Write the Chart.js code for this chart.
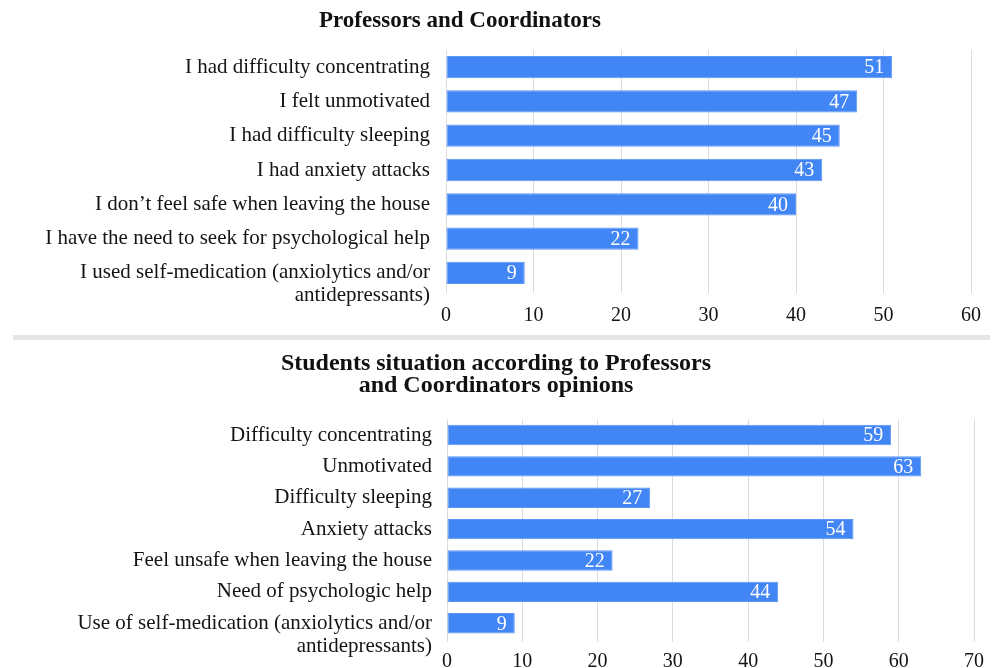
<!DOCTYPE html>
<html>
<head>
<meta charset="utf-8">
<script src="https://cdn.jsdelivr.net/npm/chart.js@4.4.1/dist/chart.umd.min.js"></script>
<style>
  body { margin: 0; width: 992px; height: 668px; background: #fff; overflow: hidden; position: relative; font-family: "Liberation Serif", serif; }
  .wrap { position: absolute; left: 0; width: 992px; }
  .title { position: absolute; text-align: center; font-weight: bold; color: #111; z-index: 2; }
  #sep { position: absolute; left: 13px; top: 335px; width: 977px; height: 5px; background: #e6e6e6; }
</style>
</head>
<body>
<div class="title" id="title1" style="left:0; width:920px; top:7px; font-size:23px; line-height:25px;">Professors and Coordinators</div>
<div class="wrap" style="top:0; height:335px;"><canvas id="chart1"></canvas></div>
<div id="sep"></div>
<div class="title" id="title2" style="left:0; width:992px; top:351px; font-size:24px; line-height:22px;">Students situation according to Professors<br>and Coordinators opinions</div>
<div class="wrap" style="top:342px; height:326px;"><canvas id="chart2"></canvas></div>
<script>
// données lues sur l'image
// le dernier libellé commence par une ligne vide pour que la 1re ligne reste centrée sur la barre
const profLabels = [
  "I had difficulty concentrating",
  "I felt unmotivated",
  "I had difficulty sleeping",
  "I had anxiety attacks",
  "I don’t feel safe when leaving the house",
  "I have the need to seek for psychological help",
  ["", "I used self-medication (anxiolytics and/or", "antidepressants)"]
];
const profValues = [51, 47, 45, 43, 40, 22, 9];
const profMax = 60;

const studentLabels = [
  "Difficulty concentrating",
  "Unmotivated",
  "Difficulty sleeping",
  "Anxiety attacks",
  "Feel unsafe when leaving the house",
  "Need of psychologic help",
  ["", "Use of self-medication (anxiolytics and/or", "antidepressants)"]
];
const studentValues = [59, 63, 27, 54, 22, 44, 9];
const studentMax = 70;

const tickStep = 10;
const barColor = '#4285F4';
const gridColor = '#dcdcdc';
const textColor = '#141414';
const serif = '"Liberation Serif", "Times New Roman", serif';

// Plugin : valeurs en blanc à l'intérieur du bout de chaque barre
const valueLabels = {
  id: 'valueLabels',
  afterDatasetsDraw(chart) {
    const ctx = chart.ctx;
    const meta = chart.getDatasetMeta(0);
    const values = chart.data.datasets[0].data;
    ctx.save();
    ctx.fillStyle = '#ffffff';
    ctx.font = '20px ' + serif;
    ctx.textAlign = 'right';
    ctx.textBaseline = 'middle';
    meta.data.forEach((bar, i) => {
      ctx.fillText(String(values[i]), bar.x - 8, bar.y + 1);
    });
    ctx.restore();
  }
};

function makeChart(canvasId, labels, values, maxVal, box) {
  const ctx = document.getElementById(canvasId).getContext('2d');
  return new Chart(ctx, {
    type: 'bar',
    data: {
      labels: labels,
      datasets: [{
        data: values,
        backgroundColor: barColor,
        borderColor: '#5b95f5',
        borderWidth: 1,
        borderSkipped: false,
        barPercentage: 0.65,
        categoryPercentage: 1
      }]
    },
    options: {
      indexAxis: 'y',
      responsive: true,
      maintainAspectRatio: false,
      animation: false,
      layout: {
        padding: { top: box.top, right: box.right, left: 0, bottom: 0 }
      },
      plugins: {
        legend: { display: false },
        title: { display: false },
        tooltip: { enabled: false }
      },
      scales: {
        x: {
          min: 0,
          max: maxVal,
          ticks: {
            stepSize: tickStep,
            color: textColor,
            font: { family: serif, size: 20 },
            padding: box.tickPad
          },
          grid: { color: gridColor, lineWidth: 1, drawTicks: true, tickLength: 3 },
          border: { display: false },
          afterFit: (scale) => { scale.height = box.xHeight; }
        },
        y: {
          ticks: {
            color: textColor,
            font: { family: serif, size: 21, lineHeight: 1.08 },
            padding: box.labelPad,
            autoSkip: false
          },
          grid: { display: false, drawTicks: false },
          border: { display: false },
          afterFit: (scale) => { scale.width = box.left; }
        }
      }
    },
    plugins: [valueLabels]
  });
}

makeChart('chart1', profLabels, profValues, profMax,
  { top: 46.6, right: 17, left: 446, xHeight: 45, tickPad: 11, labelPad: 16 });
makeChart('chart2', studentLabels, studentValues, studentMax,
  { top: 77.3, right: 16, left: 447, xHeight: 29, tickPad: 8, labelPad: 15 });
</script>
</body>
</html>
